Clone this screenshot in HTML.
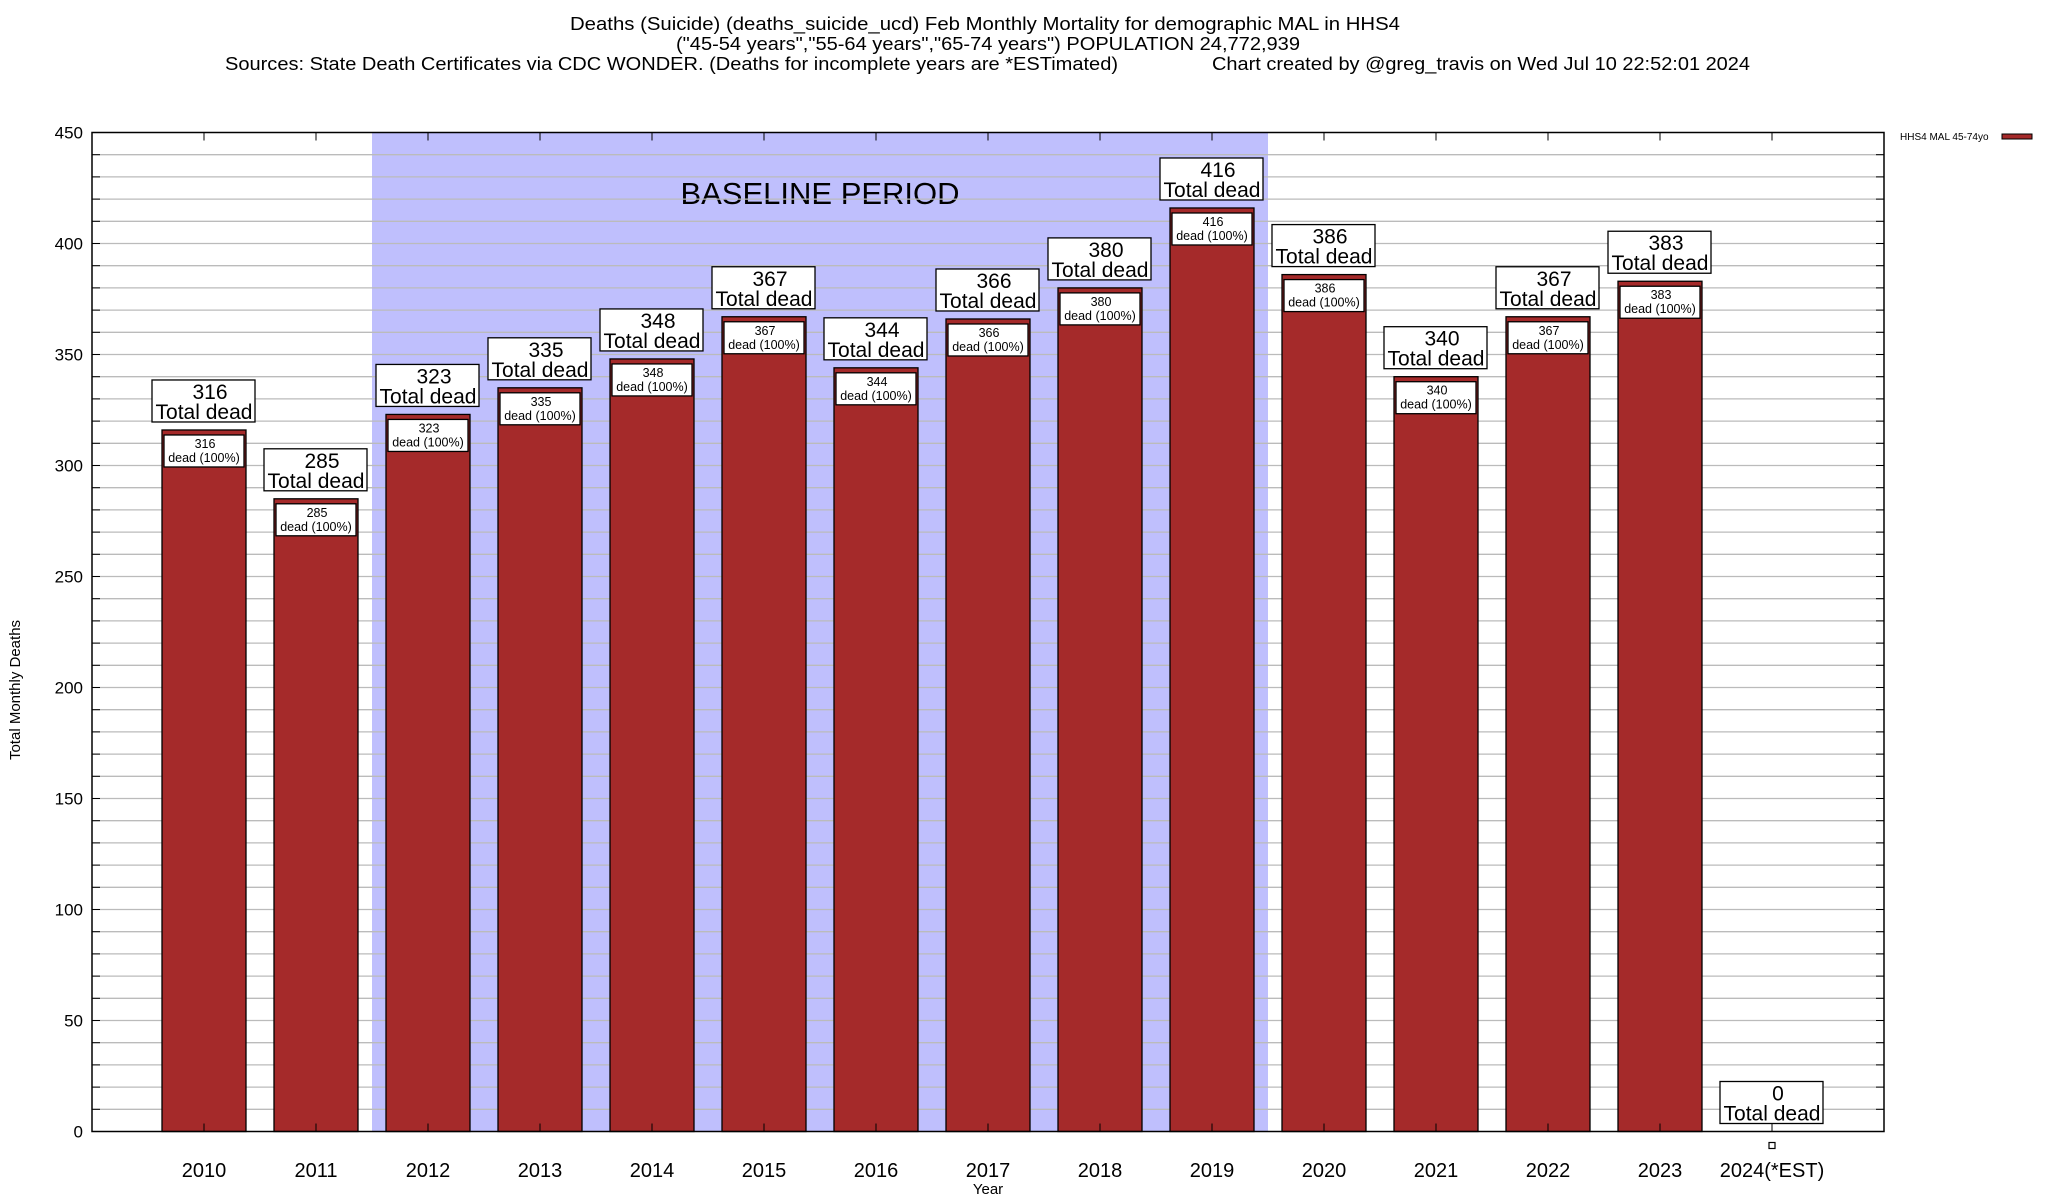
<!DOCTYPE html>
<html><head><meta charset="utf-8"><style>
html,body{margin:0;padding:0;background:#fff;}
svg{display:block;font-family:"Liberation Sans",Arial,sans-serif;}
</style></head><body>
<svg id="chart" width="2048" height="1200" viewBox="0 0 2048 1200" xmlns="http://www.w3.org/2000/svg">
<g>
<text x="985" y="30" font-size="18" text-anchor="middle" textLength="830" lengthAdjust="spacingAndGlyphs">Deaths (Suicide) (deaths_suicide_ucd) Feb Monthly Mortality for demographic MAL in HHS4</text>
<text x="988" y="50" font-size="18" text-anchor="middle" textLength="624" lengthAdjust="spacingAndGlyphs">("45-54 years","55-64 years","65-74 years") POPULATION 24,772,939</text>
<text x="225" y="70" font-size="18" textLength="893" lengthAdjust="spacingAndGlyphs">Sources: State Death Certificates via CDC WONDER. (Deaths for incomplete years are *ESTimated)</text>
<text x="1212" y="70" font-size="18" textLength="538" lengthAdjust="spacingAndGlyphs">Chart created by @greg_travis on Wed Jul 10 22:52:01 2024</text>
</g>
<g id="bg"></g>
<g id="grid"></g>
<g id="bars"></g>
<g id="axes"></g>
<g>
<text x="1900" y="140" font-size="10">HHS4 MAL 45-74yo</text>
<rect x="2002" y="134" width="30" height="5" fill="#a52a2a" stroke="#000" stroke-width="1"/>
</g>
<text x="988" y="1194" font-size="15" text-anchor="middle">Year</text>
<text transform="translate(20,690) rotate(-90)" font-size="15" text-anchor="middle">Total Monthly Deaths</text>
</svg>
<script>
const categories = ["2010","2011","2012","2013","2014","2015","2016","2017","2018","2019","2020","2021","2022","2023","2024(*EST)"];
const values = [316,285,323,335,348,367,344,366,380,416,386,340,367,383,0];
const yTicks = [0,50,100,150,200,250,300,350,400,450];
const baselineStart = 2;
const baselineEnd = 9;

const NS = "http://www.w3.org/2000/svg";
const L = 92, R = 1884, T = 132.5, B = 1131.5, YMAX = 450;
function xs(i){ return 204 + 112 * i; }
function ys(v){ return B - (v / YMAX) * (B - T); }
function mk(tag, attrs, parent, txt){
  const e = document.createElementNS(NS, tag);
  for (const k in attrs) e.setAttribute(k, attrs[k]);
  if (txt !== undefined) e.textContent = txt;
  parent.appendChild(e);
  return e;
}
const bg = document.getElementById('bg'), grid = document.getElementById('grid'),
      bars = document.getElementById('bars'), axes = document.getElementById('axes');

const band = mk('rect', {x: xs(baselineStart - 0.5), y: T, width: xs(baselineEnd + 0.5) - xs(baselineStart - 0.5), height: B - T, fill: '#bfbffd'}, bg);


const bt = mk('text', {x: 820, y: 204, 'font-size': 31, 'text-anchor': 'middle'}, bg, 'BASELINE PERIOD');



for (let v = 10; v < YMAX; v += 10) {
  const g = mk('line', {x1: L, x2: R, y1: ys(v), y2: ys(v), stroke: '#bbb', 'stroke-width': 1.3}, grid);
  
  
  mk('line', {x1: L, x2: L + 8, y1: ys(v), y2: ys(v), stroke: '#000', 'stroke-width': 1}, axes);
  mk('line', {x1: R - 8, x2: R, y1: ys(v), y2: ys(v), stroke: '#000', 'stroke-width': 1}, axes);
}
yTicks.forEach(v => {
  const t = mk('text', {x: 83, y: ys(v) + 6, 'font-size': 17, 'text-anchor': 'end'}, axes, String(v));
  
  
});

categories.forEach((c, i) => {
  const cx = xs(i), v = values[i];
  const g = mk('g', {}, bars);
  
  
  if (v > 0) {
    mk('rect', {x: cx - 42, y: ys(v), width: 84, height: B - ys(v), fill: '#a52a2a', stroke: '#000', 'stroke-width': 1.3}, g);
    const by = ys(v) + 5;
    const ib = mk('rect', {x: cx - 40, y: by, width: 80, height: 32, fill: '#fff', stroke: '#000', 'stroke-width': 1.3}, g);
    
    
    mk('text', {x: cx + 1, y: by + 13, 'font-size': 12.5, 'text-anchor': 'middle'}, g, String(v));
    mk('text', {x: cx, y: by + 27, 'font-size': 12.5, 'text-anchor': 'middle'}, g, 'dead (100%)');
  } else {
    mk('rect', {x: cx - 3, y: ys(v) + 11, width: 6, height: 6, fill: '#fff', stroke: '#000', 'stroke-width': 1.2}, g);
  }
  const ty = ys(v) - 50;
  const tb = mk('rect', {x: cx - 52, y: ty, width: 103, height: 42, fill: '#fff', stroke: '#000', 'stroke-width': 1.3}, g);
  
  
  mk('text', {x: cx + 6, y: ty + 19, 'font-size': 21, 'text-anchor': 'middle'}, g, String(v));
  mk('text', {x: cx, y: ty + 39, 'font-size': 21, 'text-anchor': 'middle'}, g, 'Total dead');

  mk('line', {x1: cx, x2: cx, y1: T, y2: T + 8, stroke: '#000', 'stroke-width': 1}, axes);
  mk('line', {x1: cx, x2: cx, y1: B - 8, y2: B, stroke: '#000', 'stroke-width': 1}, axes);
  const xl = mk('text', {x: cx, y: 1177, 'font-size': 20, 'text-anchor': 'middle'}, axes, c);
  
  
});

const frame = mk('rect', {x: L, y: T, width: R - L, height: B - T, fill: 'none', stroke: '#000', 'stroke-width': 1.5}, axes);


</script>
</body></html>
